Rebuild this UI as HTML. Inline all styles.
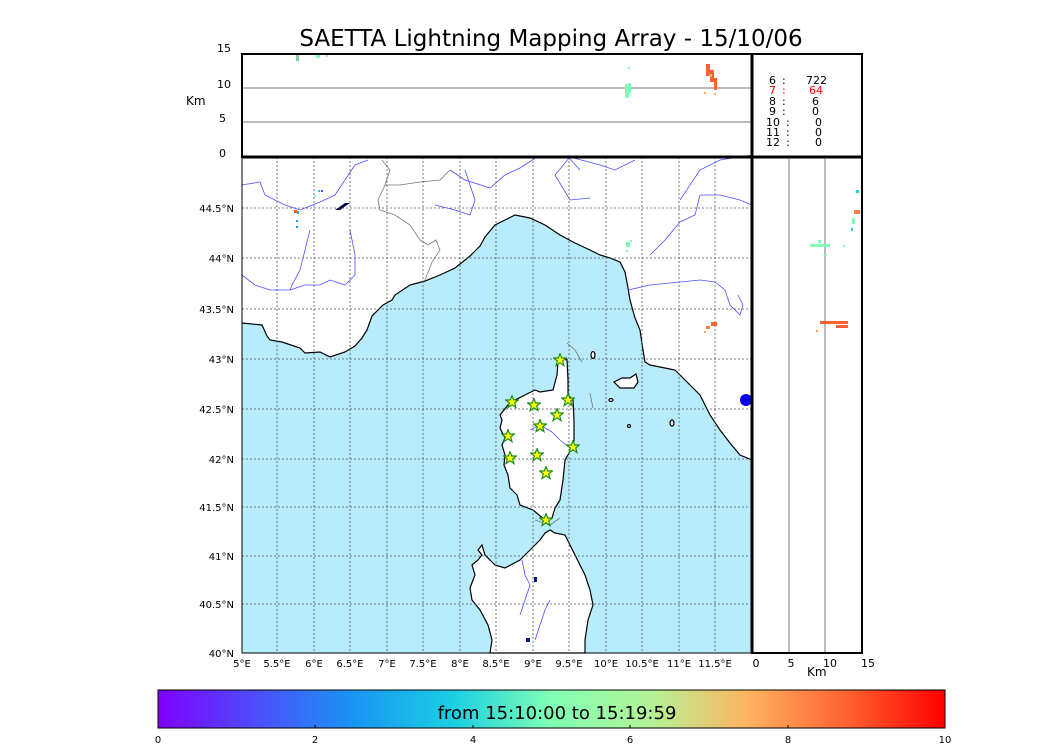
<!DOCTYPE html>
<html><head><meta charset="utf-8"><style>body{margin:0;background:#fff}svg{display:block}text{font-family:"DejaVu Sans","Liberation Sans",sans-serif}</style></head><body>
<svg width="1050" height="750" viewBox="0 0 1050 750" xmlns="http://www.w3.org/2000/svg">
<defs><linearGradient id="rb" x1="0" x2="1"><stop offset="0" stop-color="#7f00ff"/><stop offset="0.125" stop-color="#4c4efc"/><stop offset="0.25" stop-color="#1996f3"/><stop offset="0.375" stop-color="#1acfe3"/><stop offset="0.5" stop-color="#80ffb4"/><stop offset="0.625" stop-color="#b3f396"/><stop offset="0.75" stop-color="#ffb360"/><stop offset="0.875" stop-color="#ff6230"/><stop offset="1" stop-color="#ff0000"/></linearGradient>
<symbol id="st" viewBox="-6 -6 12 12"><polygon points="0,-5.5 1.5,-1.7 5.5,-1.7 2.3,0.8 3.4,4.8 0,2.4 -3.4,4.8 -2.3,0.8 -5.5,-1.7 -1.5,-1.7" fill="#ffff00" stroke="#1a8c1a" stroke-width="1"/></symbol></defs>
<text x="551" y="46" font-size="23" text-anchor="middle">SAETTA Lightning Mapping Array - 15/10/06</text>
<polygon fill="#b8ecfc" points="242,323 262,325 267,336 270,340 282,342 300,348 305,353 320,352 330,357 345,352 355,346 362,338 367,330 372,316 383,305 392,300 395,295 410,285 425,281 440,275 455,268 470,256 480,246 485,237 495,225 515,215 530,218 545,225 560,235 575,243 590,250 600,255 610,258 620,262 625,272 628,288 630,300 635,318 640,330 643,350 645,362 650,365 660,367 675,370 690,385 700,395 705,405 710,415 720,430 730,443 740,455 752,460 752,653 242,653"/>
<polyline fill="none" stroke="#000" stroke-width="1.2" points="242,323 262,325 267,336 270,340 282,342 300,348 305,353 320,352 330,357 345,352 355,346 362,338 367,330 372,316 383,305 392,300 395,295 410,285 425,281 440,275 455,268 470,256 480,246 485,237 495,225 515,215 530,218 545,225 560,235 575,243 590,250 600,255 610,258 620,262 625,272 628,288 630,300 635,318 640,330 643,350 645,362 650,365 660,367 675,370 690,385 700,395 705,405 710,415 720,430 730,443 740,455 752,460"/>
<g fill="#fff" stroke="#000" stroke-width="1.2">
<polygon points="560,358 567,360 568,380 568,395 573,400 574,420 574,440 572,448 565,460 563,480 560,500 555,508 552,518 545,520 533,510 520,505 517,495 510,488 508,475 504,465 505,455 502,445 505,438 500,428 502,420 500,415 508,405 515,400 525,395 535,390 540,392 553,390 557,375 558,362"/>
<polygon points="545,533 550,530 555,533 565,535 570,545 575,555 580,565 585,575 590,590 593,605 588,620 585,640 585,653 490,653 492,640 488,625 480,610 472,600 470,588 475,575 472,565 478,560 482,555 478,550 482,545 485,555 495,565 505,568 520,560 530,550 540,540"/>
<polygon points="614,382 622,378 630,378 636,374 638,382 634,388 620,388"/>
<ellipse cx="593" cy="355" rx="2" ry="3.5"/><ellipse cx="611" cy="400" rx="2" ry="1.5"/><ellipse cx="629" cy="426" rx="1.5" ry="1.5"/><ellipse cx="672" cy="423" rx="2" ry="3"/>
</g>
<g fill="none" stroke="#5050ff" stroke-width="0.8">
<polyline points="242,185 260,182 265,195 285,205 300,210 320,202 335,195 345,180 355,165 368,160"/>
<polyline points="310,230 305,250 300,270 292,285 290,290 305,285 320,285 330,280 345,285 355,275 355,255 350,230"/>
<polyline points="242,275 255,285 270,290 290,290"/>
<polyline points="450,170 465,180 490,188 505,175 520,168 537,157"/>
<polyline points="570,157 555,175 570,200 590,198"/>
<polyline points="570,157 600,165 615,170 635,160"/>
<polyline points="568,157 580,170"/>
<polyline points="680,200 700,170 720,160 752,155"/>
<polyline points="650,255 665,240 680,222 695,215 700,195 720,195 740,200 752,205"/>
<polyline points="628,290 650,285 680,282 700,280 715,282 725,290 730,305 740,315 743,305 738,295"/>
<polyline points="435,205 455,210 470,215 475,200 470,185 465,170"/>
<polyline points="530,430 540,425 552,432 560,440 570,448"/>
<polyline points="522,560 525,575 530,585 525,600 520,615"/>
<polyline points="550,600 545,610 540,625 535,640"/>
</g>
<g fill="none" stroke="#777" stroke-width="0.8">
<polyline points="382,160 390,170 385,185 378,200 380,210 395,215 410,225 420,240 428,245 436,240 440,250 432,262 425,280"/>
<polyline points="385,185 400,185 420,182 440,180 450,170"/>
<polyline points="567,343 575,350 582,362"/><polyline points="590,393 593,408"/>
<polyline points="535,520 550,525 560,518"/>
</g>
<path d="M335,210 L345,203 L350,203 L340,210Z" fill="#00004a"/>
<ellipse cx="746" cy="400" rx="6" ry="6" fill="#0000ee"/>
<rect x="534" y="577" width="3" height="5" fill="#002080"/><rect x="526" y="638" width="4" height="4" fill="#002080"/>
<g stroke="#555" stroke-width="0.8" stroke-dasharray="2,2">
<line x1="277" y1="157" x2="277" y2="653"/><line x1="314" y1="157" x2="314" y2="653"/><line x1="350" y1="157" x2="350" y2="653"/><line x1="387" y1="157" x2="387" y2="653"/><line x1="423" y1="157" x2="423" y2="653"/><line x1="460" y1="157" x2="460" y2="653"/><line x1="496" y1="157" x2="496" y2="653"/><line x1="533" y1="157" x2="533" y2="653"/><line x1="569" y1="157" x2="569" y2="653"/><line x1="606" y1="157" x2="606" y2="653"/><line x1="642" y1="157" x2="642" y2="653"/><line x1="679" y1="157" x2="679" y2="653"/><line x1="715" y1="157" x2="715" y2="653"/>
<line x1="242" y1="208" x2="752" y2="208"/><line x1="242" y1="258" x2="752" y2="258"/><line x1="242" y1="309" x2="752" y2="309"/><line x1="242" y1="359" x2="752" y2="359"/><line x1="242" y1="409" x2="752" y2="409"/><line x1="242" y1="459" x2="752" y2="459"/><line x1="242" y1="507" x2="752" y2="507"/><line x1="242" y1="556" x2="752" y2="556"/><line x1="242" y1="604" x2="752" y2="604"/>
</g>
<g>
<rect x="294" y="210" width="3" height="3" fill="#ff5030"/><rect x="297" y="211" width="2" height="3" fill="#20c0e0"/><rect x="296" y="220" width="2" height="2" fill="#20a0f0"/><rect x="296" y="226" width="2" height="2" fill="#1996f3"/><rect x="318" y="190" width="2" height="2" fill="#1acfe3"/><rect x="321" y="190" width="2" height="2" fill="#4c4efc"/><rect x="314" y="195" width="2" height="2" fill="#80ffb4"/>
<rect x="626" y="242" width="4" height="5" fill="#80ffb4"/><rect x="630" y="240" width="2" height="2" fill="#80ffb4"/><rect x="626" y="250" width="2" height="2" fill="#80ffb4"/>
<rect x="711" y="322" width="6" height="4" fill="#ff6230"/><rect x="706" y="326" width="4" height="3" fill="#ff8040"/><rect x="704" y="331" width="2" height="2" fill="#ffa050"/>
</g>
<rect x="242" y="157" width="510" height="496" fill="none" stroke="#000" stroke-width="1"/>
<line x1="242" y1="88" x2="752" y2="88" stroke="#777" stroke-width="1"/><line x1="242" y1="122" x2="752" y2="122" stroke="#777" stroke-width="1"/>
<g fill="#80ffb4"><rect x="625" y="84" width="4" height="14"/><rect x="628" y="83" width="3" height="10"/><rect x="628" y="67" width="2" height="2"/></g>
<g fill="#ff6230"><rect x="706" y="64" width="4" height="12"/><rect x="710" y="70" width="4" height="12"/><rect x="714" y="78" width="3" height="12"/></g>
<g fill="#ffb360"><rect x="704" y="92" width="2" height="2"/><rect x="714" y="93" width="2" height="2"/><rect x="709" y="74" width="3" height="3"/></g>
<g fill="#80c8a0"><rect x="296" y="54" width="3" height="7"/><rect x="316" y="54" width="4" height="4" fill="#80ffb4"/><rect x="326" y="55" width="2" height="2" fill="#80ffb4"/></g>
<rect x="242" y="54" width="510" height="103" fill="none" stroke="#000" stroke-width="2"/>
<line x1="242" y1="157" x2="862" y2="157" stroke="#000" stroke-width="3"/>
<rect x="752" y="54" width="110" height="103" fill="none" stroke="#000" stroke-width="2"/>
<g font-size="11" text-anchor="end"><text x="231" y="52">15</text><text x="231" y="88">10</text><text x="226" y="122">5</text><text x="226" y="157">0</text></g>
<text x="186" y="105" font-size="12">Km</text>
<g font-size="11"><text x="769" y="84">6</text><text x="782" y="84">:</text><text x="806" y="84">722</text>
<text x="769" y="94" fill="#ff0000">7</text><text x="782" y="94" fill="#ff0000">:</text><text x="809" y="94" fill="#ff0000">64</text>
<text x="769" y="105">8</text><text x="782" y="105">:</text><text x="812" y="105">6</text>
<text x="769" y="115">9</text><text x="782" y="115">:</text><text x="812" y="115">0</text>
<text x="766" y="126">10</text><text x="786" y="126">:</text><text x="815" y="126">0</text>
<text x="766" y="136">11</text><text x="786" y="136">:</text><text x="815" y="136">0</text>
<text x="766" y="146">12</text><text x="786" y="146">:</text><text x="815" y="146">0</text></g>
<line x1="789" y1="157" x2="789" y2="653" stroke="#777"/><line x1="825" y1="157" x2="825" y2="653" stroke="#777"/>
<g fill="#80ffb4"><rect x="810" y="244" width="20" height="3"/><rect x="818" y="240" width="3" height="3"/><rect x="825" y="254" width="2" height="2"/><rect x="843" y="245" width="2" height="2"/></g>
<g fill="#ff6230"><rect x="820" y="321" width="28" height="3"/><rect x="836" y="325" width="12" height="3"/><rect x="816" y="330" width="2" height="2" fill="#ffa050"/></g>
<g fill="#1acfe3"><rect x="856" y="190" width="3" height="3"/><rect x="854" y="210" width="6" height="4" fill="#ff8040"/><rect x="852" y="218" width="3" height="6" fill="#80ffb4"/><rect x="851" y="228" width="2" height="3"/></g>
<rect x="752" y="157" width="110" height="496" fill="none" stroke="#000" stroke-width="2"/>
<line x1="752" y1="54" x2="752" y2="653" stroke="#000" stroke-width="3"/>
<g font-size="11" text-anchor="middle"><text x="756" y="667">0</text><text x="791" y="667">5</text><text x="830" y="667">10</text><text x="868" y="667">15</text></g>
<text x="807" y="676" font-size="12">Km</text>
<g font-size="10" text-anchor="end"><text x="234" y="212">44.5°N</text><text x="234" y="262">44°N</text><text x="234" y="313">43.5°N</text><text x="234" y="363">43°N</text><text x="234" y="413">42.5°N</text><text x="234" y="463">42°N</text><text x="234" y="511">41.5°N</text><text x="234" y="560">41°N</text><text x="234" y="608">40.5°N</text><text x="234" y="657">40°N</text></g>
<g font-size="10" text-anchor="middle"><text x="242" y="667">5°E</text><text x="277" y="667">5.5°E</text><text x="314" y="667">6°E</text><text x="350" y="667">6.5°E</text><text x="387" y="667">7°E</text><text x="423" y="667">7.5°E</text><text x="460" y="667">8°E</text><text x="496" y="667">8.5°E</text><text x="533" y="667">9°E</text><text x="569" y="667">9.5°E</text><text x="606" y="667">10°E</text><text x="642" y="667">10.5°E</text><text x="679" y="667">11°E</text><text x="715" y="667">11.5°E</text></g>
<g>
<use href="#st" x="553" y="353" width="14" height="14"/><use href="#st" x="505" y="395" width="14" height="14"/><use href="#st" x="527" y="398" width="14" height="14"/><use href="#st" x="561" y="393" width="14" height="14"/><use href="#st" x="550" y="408" width="14" height="14"/><use href="#st" x="533" y="419" width="14" height="14"/><use href="#st" x="501" y="429" width="14" height="14"/><use href="#st" x="566" y="440" width="14" height="14"/><use href="#st" x="503" y="451" width="14" height="14"/><use href="#st" x="530" y="448" width="14" height="14"/><use href="#st" x="539" y="466" width="14" height="14"/><use href="#st" x="539" y="513" width="14" height="14"/>
</g>
<rect x="158" y="690" width="787" height="38" fill="url(#rb)" stroke="#000" stroke-width="1"/>
<text x="557" y="719" font-size="18" text-anchor="middle">from 15:10:00 to 15:19:59</text>
<g stroke="#000"><line x1="315" y1="725" x2="315" y2="728"/><line x1="473" y1="725" x2="473" y2="728"/><line x1="630" y1="725" x2="630" y2="728"/><line x1="788" y1="725" x2="788" y2="728"/></g>
<g font-size="10" text-anchor="middle"><text x="158" y="743">0</text><text x="315" y="743">2</text><text x="473" y="743">4</text><text x="630" y="743">6</text><text x="788" y="743">8</text><text x="945" y="743">10</text></g>
</svg>
</body></html>
